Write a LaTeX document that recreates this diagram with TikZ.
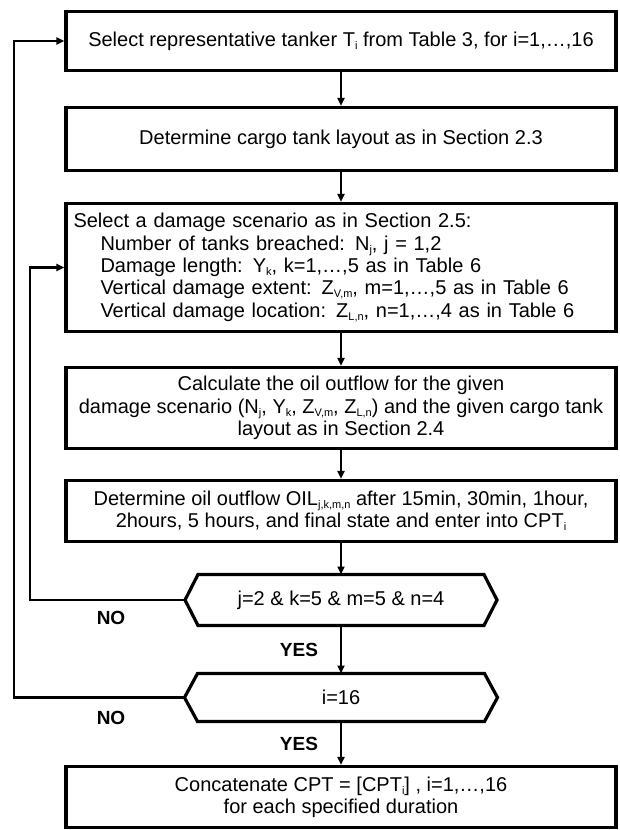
\documentclass[tikz,border=0pt]{standalone}
\usepackage{fontspec}
\setmainfont{Liberation Sans}
\usetikzlibrary{calc,arrows.meta}
\newcommand{\lowsub}[1]{\raisebox{-0.3ex}{\fontsize{11}{11}\selectfont #1}}
\begin{document}
\begin{tikzpicture}[x=1pt,y=-1pt,
  font=\fontsize{20}{22.3}\selectfont,
  box/.style={draw, line width=3.2pt, minimum width=550pt, align=center, inner sep=0pt},
  hexbox/.style={inner sep=0pt, outer sep=0pt},
  hexline/.style={line width=3.2pt, line join=miter},
  conn/.style={line width=2.2pt, -{Triangle[length=8pt,width=7pt]}},
  lab/.style={font=\fontsize{19}{22}\selectfont\bfseries}]
\useasboundingbox (0,0) rectangle (619,830);

\node[box, minimum height=59pt] (b1) at (341,41)
  {Select representative tanker T\lowsub{i} from Table 3, for i=1,\ldots,16};
\node[box, minimum height=63pt] (b2) at (341,139)
  {Determine cargo tank layout as in Section 2.3};
\node[box, minimum height=128pt, align=left, text width=535pt, inner xsep=7.5pt] (b3) at (341,267.5)
  {Select a damage scenario as in Section 2.5:\\
   \hspace*{27pt}Number of tanks breached: N\lowsub{j}, j = 1,2\\
   \hspace*{27pt}Damage length: Y\lowsub{k}, k=1,\ldots,5 as in Table 6\\
   \hspace*{27pt}Vertical damage extent: Z\lowsub{V,m}, m=1,\ldots,5 as in Table 6\\
   \hspace*{27pt}Vertical damage location: Z\lowsub{L,n}, n=1,\ldots,4 as in Table 6};
\node[box, minimum height=81pt] (b4) at (341,408)
  {Calculate the oil outflow for the given\\
   damage scenario (N\lowsub{j}, Y\lowsub{k}, Z\lowsub{V,m}, Z\lowsub{L,n}) and the given cargo tank\\
   layout as in Section 2.4};
\node[box, minimum height=61pt] (b5) at (341,511)
  {Determine oil outflow OIL\lowsub{j,k,m,n} after 15min, 30min, 1hour,\\
   2hours, 5 hours, and final state and enter into CPT\lowsub{i}};

\node[hexbox, minimum width=286pt, minimum height=51pt] (h1) at (341,600)
  {j=2 \& k=5 \& m=5 \& n=4};
\draw[hexline] (h1.north west) -- (h1.north east) -- ($(h1.east)+(13,0)$)
  -- (h1.south east) -- (h1.south west) -- ($(h1.west)+(-13,0)$) -- cycle;
\coordinate (h1l) at ($(h1.west)+(-13,0)$);

\node[hexbox, minimum width=287pt, minimum height=48pt] (h2) at (341,697.5)
  {i=16};
\draw[hexline] (h2.north west) -- (h2.north east) -- ($(h2.east)+(13,0)$)
  -- (h2.south east) -- (h2.south west) -- ($(h2.west)+(-13,0)$) -- cycle;
\coordinate (h2l) at ($(h2.west)+(-13,0)$);

\node[box, minimum height=61pt] (b6) at (341,797)
  {Concatenate CPT = [CPT\lowsub{i}] , i=1,\ldots,16\\
   for each specified duration};

\draw[conn] (b1.south) -- (b2.north);
\draw[conn] (b2.south) -- (b3.north);
\draw[conn] (b3.south) -- (b4.north);
\draw[conn] (b4.south) -- (b5.north);
\draw[conn] (b5.south) -- (h1.north);
\draw[conn] (h1.south) -- (h2.north);
\draw[conn] (h2.south) -- (b6.north);

\coordinate (innerx) at (30,0);
\coordinate (outerx) at (14,0);
\draw[conn] (h1l) -- (h1l -| innerx) |- (b3.west);
\draw[conn] (h2l) -- (h2l -| outerx) |- (b1.west);

\node[lab] (no1) at (111,618) {NO};
\node[lab] (no2) at (111,718) {NO};
\node[lab] (yes1) at (299,650) {YES};
\node[lab] (yes2) at (299,744) {YES};
\end{tikzpicture}
\end{document}
